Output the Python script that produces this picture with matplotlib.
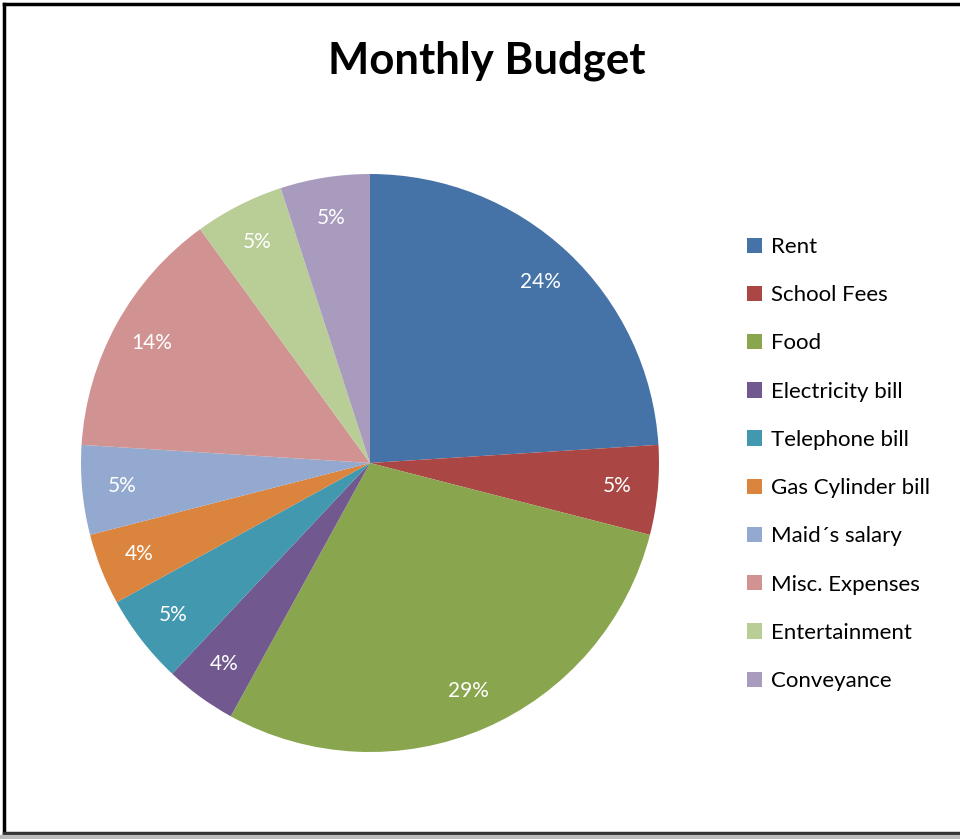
import matplotlib.pyplot as plt
from matplotlib.lines import Line2D

categories = ['Rent', 'School Fees', 'Food', 'Electricity bill', 'Telephone bill',
              'Gas Cylinder bill', 'Maid\u00b4s salary', 'Misc. Expenses',
              'Entertainment', 'Conveyance']
shares = [24, 5, 29, 4, 5, 4, 5, 14, 5, 5]
colors = ['#4572A7', '#AA4643', '#89A54E', '#71588F', '#4198AF',
          '#DB843D', '#93A9CF', '#D19392', '#B9CD96', '#A99BBD']

plt.rcParams['font.family'] = ['Lato', 'DejaVu Sans']

fig = plt.figure(figsize=(9.6, 8.39), dpi=100)
ax = fig.add_axes([81 / 960, 87 / 839, 578 / 960, 578 / 839])

wedges, texts, autotexts = ax.pie(
    shares, colors=colors, startangle=90, counterclock=False,
    autopct=lambda p: f'{p:.0f}%', pctdistance=0.86,
    textprops=dict(color='white', fontsize=15))
ax.set_xlim(-1, 1)
ax.set_ylim(-1, 1)
ax.set_aspect('equal')

fig.text(487 / 960, 1 - 61 / 839, 'Monthly Budget', ha='center', va='center',
         fontsize=31.5, fontweight='bold')

fig.legend(wedges, categories, loc='upper left', bbox_to_anchor=(727 / 960, 1 - 217 / 839),
           frameon=False, fontsize=16, handlelength=0.68, handleheight=0.68,
           handletextpad=0.4, labelspacing=1.27)

# chart border
fig.add_artist(Line2D([4 / 960, 4 / 960], [6 / 839, 1 - 4 / 839], color='black', lw=2.5))
fig.add_artist(Line2D([4 / 960, 1], [1 - 4 / 839, 1 - 4 / 839], color='black', lw=2.5))
fig.add_artist(Line2D([4 / 960, 1], [6 / 839, 6 / 839], color='#333333', lw=2.5))
fig.add_artist(Line2D([0, 1], [2 / 839, 2 / 839], color='#bbbbbb', lw=3))

fig.savefig('out.png', dpi=100)
